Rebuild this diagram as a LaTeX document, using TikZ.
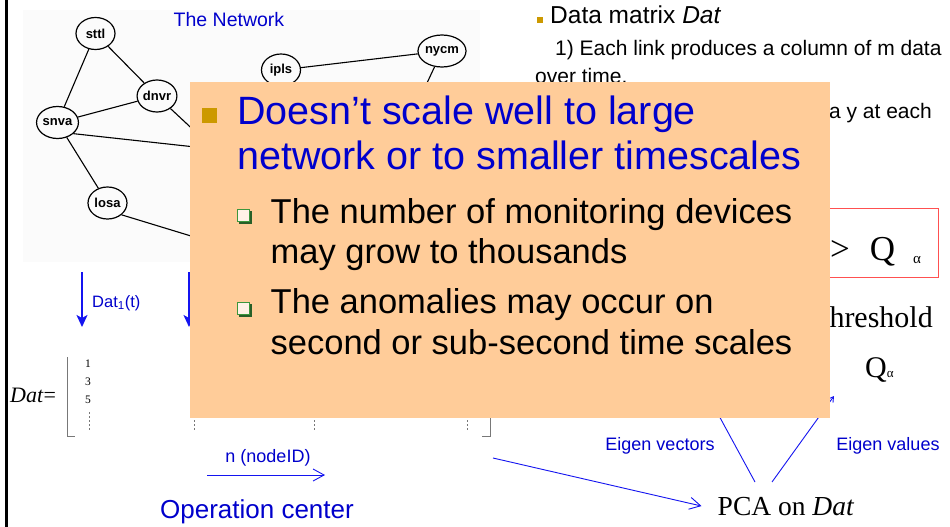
\documentclass[tikz,border=0pt]{standalone}
\usepackage{fontspec}
\setmainfont{Liberation Sans}
\newfontfamily\tnr{Liberation Serif}
\usetikzlibrary{shapes.geometric,arrows.meta}
\definecolor{slideblue}{RGB}{0,0,204}
\definecolor{arrowblue}{RGB}{20,20,240}
\definecolor{boxorange}{RGB}{255,204,153}
\definecolor{bulletgold}{RGB}{204,153,0}
\definecolor{subgreen}{RGB}{60,150,60}
\definecolor{subshadow}{RGB}{40,95,40}
\definecolor{framered}{RGB}{255,80,80}
\definecolor{netgray}{RGB}{251,251,251}
\definecolor{bracketgray}{RGB}{120,120,120}
\newcommand\fs[1]{\fontsize{#1}{#1}\selectfont}

\begin{document}
\begin{tikzpicture}[x=1pt,y=-1pt,
  router/.style={ellipse,draw,line width=1.2pt,minimum width=39pt,minimum height=32pt,
                 inner sep=0pt,font=\fs{13}\bfseries},
  link/.style={line width=1.1pt},
  lbl/.style={inner sep=0pt,anchor=base west},
  lblc/.style={inner sep=0pt,anchor=base},
  lble/.style={inner sep=0pt,anchor=base east},
  bluelbl/.style={text=slideblue},
  thinblue/.style={draw=arrowblue,line width=0.9pt},
  openarrow/.style={thinblue,-{Straight Barb[length=11pt,width=12pt]}},
  tinyarrow/.style={thinblue,-{Straight Barb[length=5pt,width=6pt]}},
  datarrow/.style={draw=arrowblue,line width=1.6pt,-{Stealth[length=12pt,width=11pt,inset=3pt]}},
  colline/.style={draw=bracketgray,line width=0.8pt,dash pattern=on 2pt off 2pt},
  bracket/.style={draw=bracketgray,line width=0.9pt},
  subbullet/.pic={
    \fill[subshadow] (2,2) rectangle (14.5,14.5);
    \filldraw[fill=boxorange!25!white,draw=subgreen,line width=1pt] (0,0) rectangle (12.5,12.5);
  }]
\useasboundingbox (0,0) rectangle (950,527);
\fill[white] (0,0) rectangle (950,527);

% ---------------- network map ----------------
\fill[netgray] (23,10) rectangle (480,262);
\node[lblc,bluelbl,font=\fs{19.5}] (nettitle) at (229,27) {The Network};

\node[router] (sttl) at (95.5,33.5) {sttl};
\node[router] (dnvr) at (157,96) {dnvr};
\node[router] (snva) at (57.5,122.5) {snva};
\node[router] (losa) at (107.5,203) {losa};
\node[router] (ipls) at (281,70) {ipls};
\node[router] (nycm) at (442,51) {nycm};

% links towards routers placed further right
\coordinate (farA) at (250,153);
\coordinate (farB) at (230,164);
\coordinate (farC) at (250,254);
\coordinate (farD) at (412,115);

\draw[link] (sttl) -- (snva);
\draw[link] (sttl) -- (dnvr);
\draw[link] (snva) -- (dnvr);
\draw[link] (snva) -- (losa);
\draw[link] (snva.-35) -- (farA);
\draw[link] (dnvr) -- (farB);
\draw[link] (losa.-40) -- (farC);
\draw[link] (ipls) -- (nycm);
\draw[link] (nycm) -- (farD);

% ---------------- data matrix description ----------------
\fill[bulletgold] (537,17) rectangle (543,23);
\node[lbl,font=\fs{24.5}] (datam) at (550,24) {Data matrix \textit{Dat}};
\node[lbl,font=\fs{21}] (each) at (555,56) {1) Each link produces a column of m data};
\node[lbl,font=\fs{21}] (overtime) at (535,84) {over time.};
\node[lble,font=\fs{21}] (ateach) at (932,118) {a y at each};

\draw[framered,line width=1pt] (790,208) rectangle (938,277);
\node[lblc,font=\tnr\fs{35}] (gt) at (840,260) {>};
\node[lblc,font=\tnr\fs{35}] (qbig) at (882.5,260) {Q};
\node[lblc,font=\tnr\fs{15}] (abig) at (917,263) {α};
\node[lble,font=\tnr\fs{30}] (thr) at (933,327) {Threshold};
\node[lbl,font=\tnr\fs{30}] (qa) at (865,377) {Q\fs{13}α};

% ---------------- operation center ----------------
\coordinate (d1a) at (82,272);
\coordinate (d1b) at (82,327);
\draw[datarrow] (d1a) -- (d1b);
\node[lbl,bluelbl,font=\fs{16.5}] (d1lbl) at (92,307) {Dat\textsubscript{1}(t)};
\coordinate (d2a) at (189,272);
\coordinate (d2b) at (189,327);
\draw[datarrow] (d2a) -- (d2b);

\node[lbl,font=\tnr\fs{22}] (dat) at (10,402) {\textit{Dat}=};
\node[lblc,font=\tnr\fs{11.5}] (r1) at (88,367) {1};
\node[lblc,font=\tnr\fs{11.5}] (r3) at (88,385) {3};
\node[lblc,font=\tnr\fs{11.5}] (r5) at (88,403) {5};
\draw[colline] (89,412) -- (89,430);
\draw[bracket] (67,357) -- (67,436) -- (75,436);
\draw[bracket] (490,357) -- (490,436) -- (482,436);
\draw[colline] (194,400) -- (194,430);
\draw[colline] (314,400) -- (314,430);
\draw[colline] (467,400) -- (467,430);

% ---------------- PCA ----------------
\node[lblc,font=\tnr\fs{27.5},inner xsep=16pt] (pca) at (786,515) {PCA on \textit{Dat}};
\coordinate (datout) at (493,458);
\draw[openarrow] (datout) -- (pca.west);
\coordinate (evs) at (755,482);
\coordinate (evhid) at (705,390);
\draw[openarrow] (evs) -- (evhid);
\coordinate (evl) at (772,482);
\coordinate (qtip) at (834,396);
\draw[tinyarrow] (evl) -- (qtip);
\node[lblc,bluelbl,font=\fs{18}] (evslbl) at (660,450) {Eigen vectors};
\node[lblc,bluelbl,font=\fs{18}] (evllbl) at (888,450) {Eigen values};

% ---------------- overlay note ----------------
\node[fill=boxorange,minimum width=640pt,minimum height=336pt,anchor=north west,inner sep=0pt]
  (note) at (190,82) {};
\fill[bulletgold] (202,108) rectangle (217,123);
\node[lbl,bluelbl,font=\fs{39.5}] (h1) at (237,124) {Doesn’t scale well to large};
\node[lbl,bluelbl,font=\fs{39.5}] (h2) at (237,169) {network or to smaller timescales};
\pic at (237,209) {subbullet};
\node[lbl,font=\fs{34.5}] (s1a) at (270.5,223) {The number of monitoring devices};
\node[lbl,font=\fs{34.5}] (s1b) at (270.5,263) {may grow to thousands};
\pic at (237,302) {subbullet};
\node[lbl,font=\fs{34.5}] (s2a) at (270.5,313) {The anomalies may occur on};
\node[lbl,font=\fs{34.5}] (s2b) at (270.5,354) {second or sub-second time scales};

% ---------------- bottom labels ----------------
\node[lblc,bluelbl,font=\fs{18}] (nid) at (268,462) {n (nodeID)};
\coordinate (nA) at (207,475);
\coordinate (nB) at (325,475);
\draw[openarrow] (nA) -- (nB);
\node[lblc,bluelbl,font=\fs{26}] (opc) at (257,518) {Operation center};

% page edge
\draw[line width=3pt] (6.5,0) -- (6.5,527);
\end{tikzpicture}
\end{document}
